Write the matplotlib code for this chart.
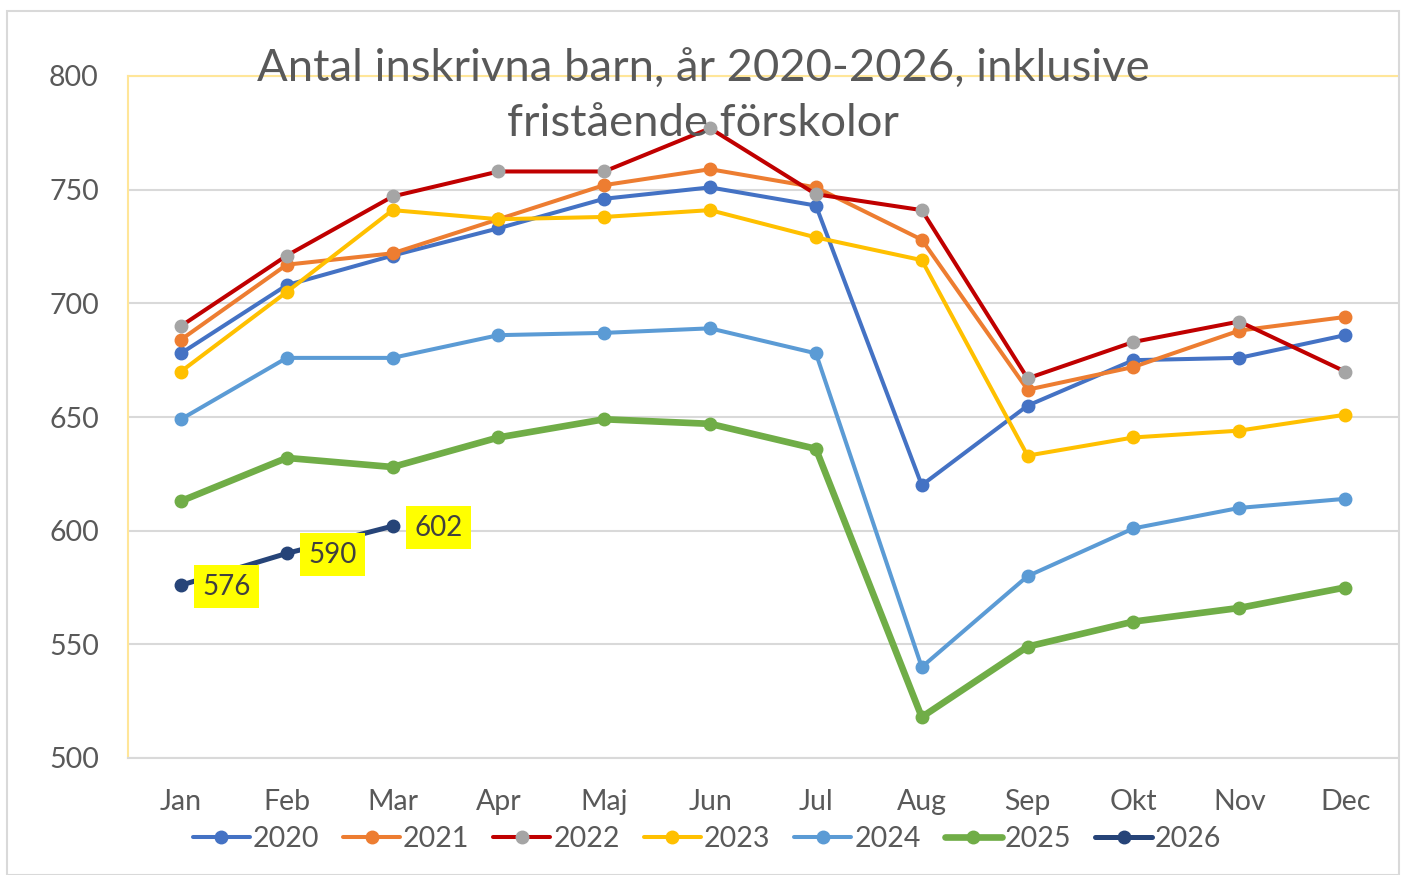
import matplotlib
matplotlib.use("Agg")
import matplotlib.pyplot as plt
from matplotlib.patches import Rectangle

plt.rcParams['font.family'] = ['Lato', 'DejaVu Sans']

months = ["Jan", "Feb", "Mar", "Apr", "Maj", "Jun", "Jul", "Aug", "Sep", "Okt", "Nov", "Dec"]
y2020 = [678, 708, 721, 733, 746, 751, 743, 620, 655, 675, 676, 686]
y2021 = [684, 717, 722, 737, 752, 759, 751, 728, 662, 672, 688, 694]
y2022 = [690, 721, 747, 758, 758, 777, 748, 741, 667, 683, 692, 670]
y2023 = [670, 705, 741, 737, 738, 741, 729, 719, 633, 641, 644, 651]
y2024 = [649, 676, 676, 686, 687, 689, 678, 540, 580, 601, 610, 614]
y2025 = [613, 632, 628, 641, 649, 647, 636, 518, 549, 560, 566, 575]
y2026 = [576, 590, 602]
years = ["2020", "2021", "2022", "2023", "2024", "2025", "2026"]
title = "Antal inskrivna barn, år 2020-2026, inklusive\nfristående förskolor"

series = [
    (y2020, "#4472C4", "#4472C4", 2.9, 9),
    (y2021, "#ED7D31", "#ED7D31", 2.9, 9),
    (y2022, "#C00000", "#A5A5A5", 2.9, 9),
    (y2023, "#FFC000", "#FFC000", 2.9, 9),
    (y2024, "#5B9BD5", "#5B9BD5", 2.9, 9),
    (y2025, "#70AD47", "#70AD47", 4.8, 9),
    (y2026, "#264478", "#264478", 3.6, 9),
]

fig = plt.figure(figsize=(14.03, 8.75), dpi=100)
fig.patches.append(Rectangle((7/1403, 0), (1399-7)/1403, (875-11)/875,
                             transform=fig.transFigure, fill=False,
                             edgecolor="#D9D9D9", linewidth=1.5))
ax = fig.add_axes([128/1403, 1-758/875, (1398-128)/1403, (758-76)/875])

x = list(range(len(months)))
for (vals, lc, mc, lw, ms), lab in zip(series, years):
    ax.plot(x[:len(vals)], vals, color=lc, lw=lw, marker='o', ms=ms,
            markerfacecolor=mc, markeredgecolor=mc, label=lab,
            solid_capstyle='round', zorder=3)

for i, v in enumerate(y2026):
    ax.annotate(str(v), (i, v), xytext=(33, -1), textcoords='offset points',
                ha='center', va='center', fontsize=20, color="#404040",
                bbox=dict(boxstyle='square,pad=0.3', fc='#FFFF00', ec='none'),
                zorder=5)

ax.set_xlim(-0.5, 11.5)
ax.set_ylim(500, 800)
ax.set_yticks([500, 550, 600, 650, 700, 750, 800])
ax.set_xticks(x)
ax.set_xticklabels(months)
ax.grid(axis='y', color="#D9D9D9", lw=1.5, zorder=0)
ax.set_axisbelow(True)
ax.tick_params(axis='both', length=0, labelsize=20.5, labelcolor="#595959")
ax.tick_params(axis='y', pad=21)
ax.tick_params(axis='x', pad=22)
for s in ['left', 'top']:
    ax.spines[s].set_color("#FFE699")
    ax.spines[s].set_linewidth(1.5)
ax.spines['bottom'].set_color("#D9D9D9")
ax.spines['bottom'].set_linewidth(1.5)
ax.spines['right'].set_visible(False)

fig.text(703/1403, 1-96/875, title, ha='center', va='center', fontsize=32.7,
         color="#595959", linespacing=1.4)

leg = fig.legend(loc='center', bbox_to_anchor=(707/1403, 1-839/875), ncol=7,
                 frameon=False, fontsize=20.5, handlelength=2.0, handletextpad=0.1,
                 columnspacing=0.85, labelcolor="#595959")

fig.savefig("out.png", dpi=100)
